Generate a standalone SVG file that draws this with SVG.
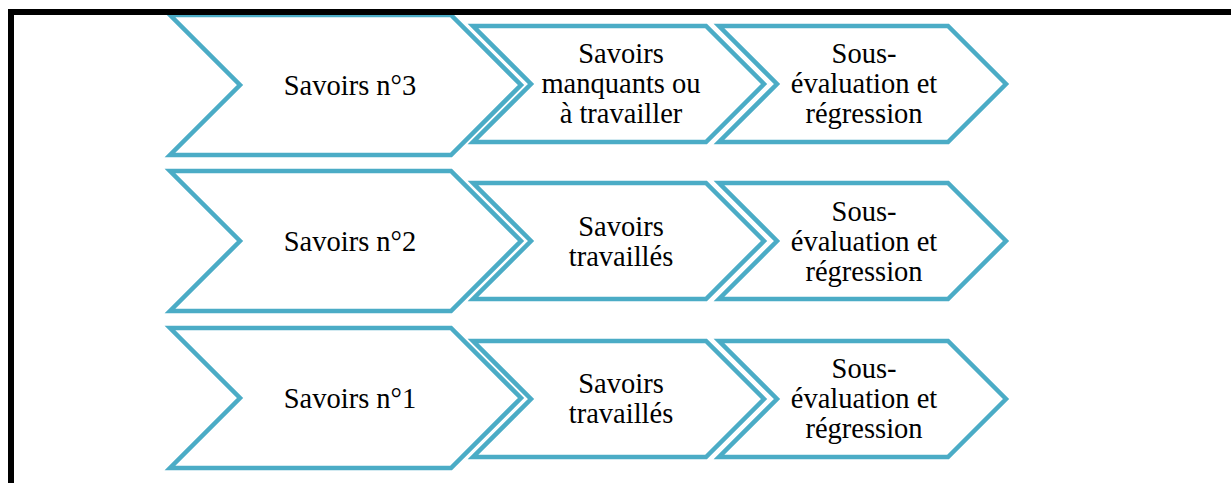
<svg xmlns="http://www.w3.org/2000/svg" width="1231" height="483" viewBox="0 0 1231 483">
<style>
.ch{fill:#ffffff;stroke:#4BACC6;stroke-width:4.5;stroke-linejoin:miter}
text{font-family:'Liberation Serif','Times New Roman',serif;font-size:28.5px;fill:#000;text-anchor:middle}
</style>
<rect width="1231" height="483" fill="#ffffff"/>
<g id="row3">
<g id="n3a"><path class="ch" d="M170,15 L451,15 L521,85 L451,155 L170,155 L240,85 Z"/><text x="350" y="95">Savoirs n°3</text></g>
<g id="n3b"><path class="ch" d="M473,26 L706,26 L764,84 L706,142 L473,142 L531,84 Z"/><text x="621" y="63">Savoirs</text><text x="621" y="93">manquants ou</text><text x="621" y="123">à travailler</text></g>
<g id="n3c"><path class="ch" d="M719,26 L948,26 L1006,84 L948,142 L719,142 L777,84 Z"/><text x="864" y="63">Sous-</text><text x="864" y="93">évaluation et</text><text x="864" y="123">régression</text></g>
</g>
<g id="row2">
<g id="n2a"><path class="ch" d="M170,171 L451,171 L521,241 L451,311 L170,311 L240,241 Z"/><text x="350" y="251">Savoirs n°2</text></g>
<g id="n2b"><path class="ch" d="M473,183 L706,183 L764,241 L706,299 L473,299 L531,241 Z"/><text x="621" y="236">Savoirs</text><text x="621" y="266">travaillés</text></g>
<g id="n2c"><path class="ch" d="M719,183 L948,183 L1006,241 L948,299 L719,299 L777,241 Z"/><text x="864" y="221">Sous-</text><text x="864" y="251">évaluation et</text><text x="864" y="281">régression</text></g>
</g>
<g id="row1">
<g id="n1a"><path class="ch" d="M170,328 L451,328 L521,398 L451,468 L170,468 L240,398 Z"/><text x="350" y="408">Savoirs n°1</text></g>
<g id="n1b"><path class="ch" d="M473,341 L706,341 L764,399 L706,457 L473,457 L531,399 Z"/><text x="621" y="393">Savoirs</text><text x="621" y="423">travaillés</text></g>
<g id="n1c"><path class="ch" d="M719,341 L948,341 L1006,399 L948,457 L719,457 L777,399 Z"/><text x="864" y="378">Sous-</text><text x="864" y="408">évaluation et</text><text x="864" y="438">régression</text></g>
</g>
<g id="connectors"></g>
<g id="frame">
<rect x="8" y="9" width="1223" height="6" fill="#000"/>
<rect x="8" y="9" width="6" height="474" fill="#000"/>
</g>
</svg>
